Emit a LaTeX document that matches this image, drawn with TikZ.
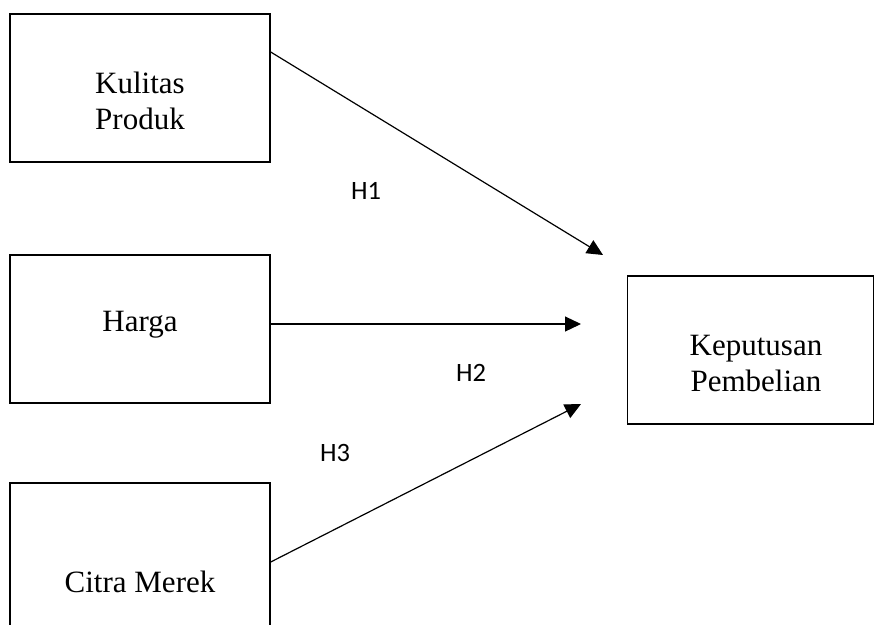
\documentclass[tikz,border=0pt]{standalone}
\usepackage{fontspec}
\setmainfont{Liberation Serif}
\newfontfamily\calib{Carlito}
\usetikzlibrary{arrows.meta}
\begin{document}
\begin{tikzpicture}[x=1pt,y=-1pt,
  box/.style={draw=black,line width=1.4pt,rectangle,inner sep=0pt},
  btext/.style={font=\fontsize{31}{36}\selectfont,align=center,inner sep=0pt},
  hlab/.style={font=\calib\fontsize{26.5}{30}\selectfont,inner sep=0pt},
  conn/.style={line width=1.2pt,-{Triangle[length=16pt,width=15pt]}}]
\useasboundingbox (0,0) rectangle (874,624);
\clip (0,0) rectangle (874,624);
% boxes
\node[box,minimum width=260pt,minimum height=148pt] (kp) at (140,88) {};
\node[btext] (kpt) at (140,101) {Kulitas\\Produk};
\node[box,minimum width=260pt,minimum height=148pt] (h) at (140,329) {};
\node[btext] (ht) at (140,325) {Harga};
\node[box,minimum width=260pt,minimum height=158pt] (cm) at (140,562) {};
\node[btext] (cmt) at (140,582) {Citra Merek};
\node[box,minimum width=246pt,minimum height=148pt] (kpb) at (750.5,350) {};
\node[btext] (kpbt) at (756,363) {Keputusan\\Pembelian};
% arrow ends
\coordinate (e1) at (603,255);
\coordinate (e2) at (581,324);
\coordinate (e3) at (581,404);
\draw[conn] ([yshift=36pt]kp.east) -- (e1);
\draw[conn] ([yshift=5pt]h.east) -- (e2);
\draw[conn] (cm.east) -- (e3);
% labels
\node[hlab] (l1) at (366,191) {H1};
\node[hlab] (l2) at (471,373) {H2};
\node[hlab] (l3) at (335,453) {H3};
\end{tikzpicture}
\end{document}
